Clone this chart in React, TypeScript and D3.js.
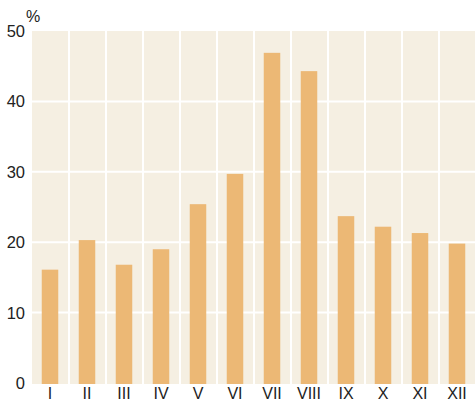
import React from "react";
import * as d3 from "d3";

const categories = ["I", "II", "III", "IV", "V", "VI", "VII", "VIII", "IX", "X", "XI", "XII"];
const values = [16.1, 20.3, 16.8, 19.0, 25.4, 29.7, 46.9, 44.3, 23.7, 22.2, 21.3, 19.8];
const yTicks = [0, 10, 20, 30, 40, 50];
const unitLabel = "%";

const W = 475;
const H = 403;
const margin = { left: 32, right: -1, top: 31, bottom: 20 };

export default function App() {
  const x = d3
    .scaleBand<string>()
    .domain(categories)
    .range([margin.left, W - margin.right])
    .paddingInner(0)
    .paddingOuter(0);
  const y = d3.scaleLinear().domain([0, 50]).range([H - margin.bottom, margin.top]);
  const bw = x.bandwidth();
  const barW = 16.5;
  const font = "'Liberation Sans', Arial, sans-serif";

  return (
    <svg
      width={W}
      height={H}
      style={{ position: "absolute", left: 0, top: 0, display: "block" }}
    >
      <rect x={margin.left} y={margin.top} width={W - margin.right - margin.left} height={y(0) - margin.top + 1} fill="#f5efe2" />
      {yTicks
        .filter((t) => t > 0 && t < 50)
        .map((t) => (
          <line key={t} x1={margin.left} x2={W} y1={y(t)} y2={y(t)} stroke="#ffffff" strokeWidth={2} />
        ))}
      {categories.slice(1).map((c) => (
        <line key={c} x1={x(c)!} x2={x(c)!} y1={margin.top} y2={y(0) + 1} stroke="#ffffff" strokeWidth={2} />
      ))}
      {categories.map((c, i) => (
        <rect
          key={c}
          x={x(c)! + bw / 2 - barW / 2 - 0.5}
          y={y(values[i])}
          width={barW}
          height={y(0) - y(values[i]) + 1}
          fill="#ecb875"
        />
      ))}
      {yTicks.map((t) => (
        <text
          key={t}
          x={25}
          y={y(t)}
          dy="0.36em"
          textAnchor="end"
          fontFamily={font}
          fontSize={16.5}
          fill="#222"
        >
          {t}
        </text>
      ))}
      <text x={26} y={22} fontFamily={font} fontSize={16} fill="#222">
        {unitLabel}
      </text>
      {categories.map((c) => (
        <text
          key={c}
          x={x(c)! + bw / 2 - 0.5}
          y={399}
          textAnchor="middle"
          fontFamily={font}
          fontSize={16}
          fill="#222"
        >
          {c}
        </text>
      ))}
    </svg>
  );
}
